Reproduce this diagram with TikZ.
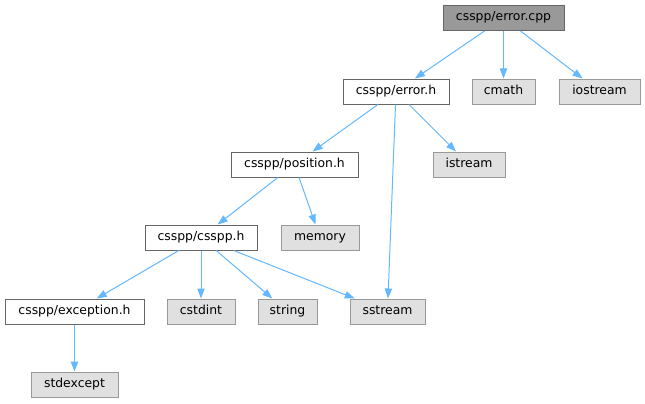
\documentclass[tikz,border=0pt]{standalone}
\usepackage{fontspec}
\setmainfont{DejaVu Sans}
\usetikzlibrary{arrows.meta}
\definecolor{edgeblue}{HTML}{63B8FF}
\definecolor{darkline}{HTML}{666666}
\definecolor{grayline}{HTML}{999999}
\definecolor{grayfill}{HTML}{E0E0E0}
\begin{document}
\begin{tikzpicture}[
			x=0.75pt, y=-0.75pt,
			font=\fontsize{9.3}{11}\selectfont,
			box/.style={draw, line width=0.75pt, inner sep=0pt, minimum height=18.75pt, minimum width=#1, text height=6.5pt, text depth=2.3pt},
			root/.style={box=#1, draw=darkline, fill=grayline},
			inc/.style={box=#1, draw=darkline, fill=white},
			sys/.style={box=#1, draw=grayline, fill=grayfill},
			edge/.style={draw=edgeblue, line width=0.75pt, -{Triangle[length=7.5pt,width=5.5pt]}}
		]
		\useasboundingbox (0,0) rectangle (645,403);
		\node[root=90.75pt] (cpp) at (503.5,18) {csspp/error.cpp};
		\node[inc=79.5pt] (errh) at (396,91.5) {csspp/error.h};
		\node[sys=47.25pt] (cmath) at (503.5,91.5) {cmath};
		\node[sys=60.75pt] (iostream) at (599.5,91.5) {iostream};
		\node[inc=95.25pt] (posh) at (294.5,164.5) {csspp/position.h};
		\node[sys=54pt] (istream) at (469,164.5) {istream};
		\node[inc=84pt] (cssh) at (201,237.5) {csspp/csspp.h};
		\node[sys=58.5pt] (memory) at (320,237.5) {memory};
		\node[inc=104.25pt] (exch) at (74.5,311.5) {csspp/exception.h};
		\node[sys=51pt] (cstdint) at (201,311.5) {cstdint};
		\node[sys=44.25pt] (string) at (287.5,311.5) {string};
		\node[sys=56.25pt] (sstream) at (387.5,311.5) {sstream};
		\node[sys=65.25pt] (stdexcept) at (74.5,384.5) {stdexcept};
		\draw[edge] (cpp) -- (errh);
		\draw[edge] (cpp) -- (cmath);
		\draw[edge] (cpp) -- (iostream);
		\draw[edge] (errh) -- (posh);
		\draw[edge] (errh) -- (sstream);
		\draw[edge] (errh) -- (istream);
		\draw[edge] (posh) -- (cssh);
		\draw[edge] (posh) -- (memory);
		\draw[edge] (cssh) -- (exch);
		\draw[edge] (cssh) -- (cstdint);
		\draw[edge] (cssh) -- (string);
		\draw[edge] (cssh) -- (sstream);
		\draw[edge] (exch) -- (stdexcept);
	\end{tikzpicture}
\end{document}
